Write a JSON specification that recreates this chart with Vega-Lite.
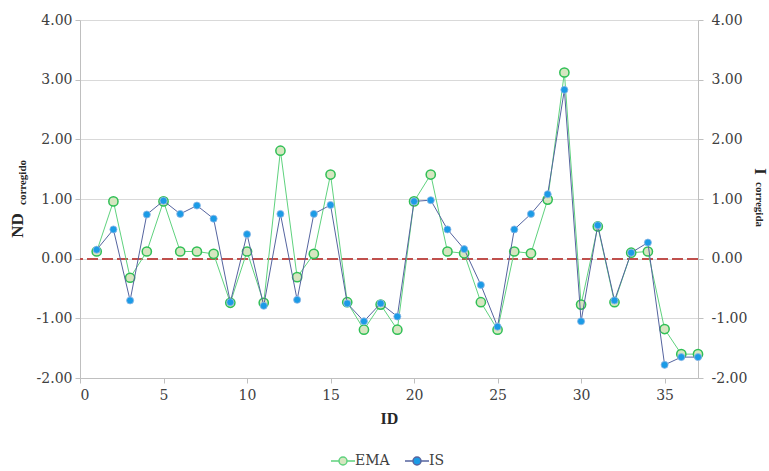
{
  "$schema": "https://vega.github.io/schema/vega-lite/v6.json",
  "width": 618,
  "height": 358,
  "autosize": {"type": "none"},
  "padding": {"left": 80, "top": 20, "right": 71, "bottom": 93},
  "background": "white",
  "config": {
    "font": "Liberation Serif",
    "locale": {"number": {"decimal": ".", "thousands": ",", "grouping": [3], "currency": ["$", ""], "minus": "-"}},
    "view": {"stroke": null},
    "axis": {
      "labelFont": "DejaVu Serif",
      "titleFont": "Liberation Serif",
      "labelFontSize": 14,
      "labelColor": "#404040",
      "titleColor": "#262626",
      "domainColor": "#bfbfbf",
      "tickColor": "#bfbfbf",
      "tickSize": 5,
      "gridColor": "#d9d9d9"
    },
    "legend": {"labelFont": "DejaVu Serif", "labelFontSize": 14, "labelColor": "#404040",
      "layout": {"bottom": {"anchor": "middle"}}}
  },
  "data": {
    "values": [
      {"ID": 1, "EMA": 0.12, "IS": 0.15},
      {"ID": 2, "EMA": 0.96, "IS": 0.49},
      {"ID": 3, "EMA": -0.32, "IS": -0.70},
      {"ID": 4, "EMA": 0.12, "IS": 0.74},
      {"ID": 5, "EMA": 0.96, "IS": 0.97},
      {"ID": 6, "EMA": 0.12, "IS": 0.75},
      {"ID": 7, "EMA": 0.12, "IS": 0.89},
      {"ID": 8, "EMA": 0.08, "IS": 0.67},
      {"ID": 9, "EMA": -0.74, "IS": -0.73},
      {"ID": 10, "EMA": 0.12, "IS": 0.41},
      {"ID": 11, "EMA": -0.74, "IS": -0.79},
      {"ID": 12, "EMA": 1.81, "IS": 0.75},
      {"ID": 13, "EMA": -0.31, "IS": -0.69},
      {"ID": 14, "EMA": 0.08, "IS": 0.75},
      {"ID": 15, "EMA": 1.41, "IS": 0.90},
      {"ID": 16, "EMA": -0.73, "IS": -0.75},
      {"ID": 17, "EMA": -1.19, "IS": -1.05},
      {"ID": 18, "EMA": -0.77, "IS": -0.75},
      {"ID": 19, "EMA": -1.19, "IS": -0.97},
      {"ID": 20, "EMA": 0.96, "IS": 0.96},
      {"ID": 21, "EMA": 1.41, "IS": 0.98},
      {"ID": 22, "EMA": 0.12, "IS": 0.49},
      {"ID": 23, "EMA": 0.09, "IS": 0.16},
      {"ID": 24, "EMA": -0.73, "IS": -0.44},
      {"ID": 25, "EMA": -1.19, "IS": -1.14},
      {"ID": 26, "EMA": 0.12, "IS": 0.49},
      {"ID": 27, "EMA": 0.09, "IS": 0.75},
      {"ID": 28, "EMA": 0.99, "IS": 1.08},
      {"ID": 29, "EMA": 3.12, "IS": 2.83},
      {"ID": 30, "EMA": -0.77, "IS": -1.05},
      {"ID": 31, "EMA": 0.54, "IS": 0.56},
      {"ID": 32, "EMA": -0.73, "IS": -0.70},
      {"ID": 33, "EMA": 0.10, "IS": 0.10},
      {"ID": 34, "EMA": 0.12, "IS": 0.27},
      {"ID": 35, "EMA": -1.18, "IS": -1.78},
      {"ID": 36, "EMA": -1.60, "IS": -1.65},
      {"ID": 37, "EMA": -1.60, "IS": -1.65}
    ]
  },
  "layer": [
    {
      "layer": [
        {
          "mark": {"type": "rule", "color": "#c0504d", "strokeWidth": 1.5, "strokeDash": [11, 4]},
          "encoding": {
            "y": {"datum": 0, "type": "quantitative", "scale": {"domain": [-2, 4], "nice": false},
              "axis": {"orient": "left", "title": "corregido", "titleFontSize": 11, "titleFontWeight": "bold",
                "titleAngle": 270, "titleAlign": "center", "titleBaseline": "middle", "titleX": -58, "titleY": 162,
                "domain": false, "ticks": false, "labels": false, "grid": false, "offset": 0}}
          }
        },
        {
          "mark": {"type": "rule", "color": "#c0504d", "strokeOpacity": 0},
          "encoding": {
            "y": {"datum": 0, "type": "quantitative", "scale": {"domain": [-2, 4], "nice": false},
              "axis": {"orient": "right", "title": "corregida", "titleFontSize": 11, "titleFontWeight": "bold",
                "titleAngle": 90, "titleAlign": "center", "titleBaseline": "middle", "titleX": 60, "titleY": 184,
                "domain": false, "ticks": false, "labels": false, "grid": false, "offset": 0}}
          }
        }
      ],
      "resolve": {"scale": {"y": "independent"}}
    },
    {
      "transform": [{"fold": ["EMA"], "as": ["series", "value"]}],
      "encoding": {
        "x": {"field": "ID", "type": "quantitative", "scale": {"domain": [0, 37], "nice": false},
          "axis": {"values": [0, 5, 10, 15, 20, 25, 30, 35], "grid": false, "title": "ID", "titleFontSize": 16,
            "titleFontWeight": "bold", "titlePadding": 8, "labelPadding": 5}},
        "y": {"field": "value", "type": "quantitative", "scale": {"domain": [-2, 4], "nice": false},
          "axis": {"orient": "left", "values": [-2, -1, 0, 1, 2, 3, 4], "format": ".2f", "grid": true, "labelPadding": 3,
            "title": "ND", "titleFontSize": 17, "titleFontWeight": "bold", "titleAngle": 270, "titleAlign": "center",
            "titleBaseline": "middle", "titleX": -63, "titleY": 205, "offset": 0}}
      },
      "layer": [
        {
          "mark": {"type": "line", "strokeWidth": 1},
          "encoding": {
            "stroke": {"field": "series", "type": "nominal", "title": null,
              "scale": {"domain": ["EMA", "IS"], "range": ["#5fd27e", "#55649f"]},
              "legend": {"orient": "bottom", "direction": "horizontal", "offset": 26,
                "symbolType": "M-1.5,0L-0.5,0M0.5,0L1.5,0M-0.5,0A0.5,0.5,0,1,1,0.5,0A0.5,0.5,0,1,1,-0.5,0",
                "symbolSize": 256, "symbolStrokeWidth": 1.5, "labelOffset": 3, "columnPadding": 12}}
          }
        },
        {
          "mark": {"type": "point", "filled": true, "size": 85, "stroke": "#2fbf55", "strokeWidth": 1.5, "opacity": 1},
          "encoding": {
            "fill": {"field": "series", "type": "nominal", "title": null,
              "scale": {"domain": ["EMA", "IS"], "range": ["#d6e6c0", "#1b9be6"]}}
          }
        }
      ]
    },
    {
      "transform": [{"fold": ["IS"], "as": ["series", "value"]}],
      "encoding": {
        "x": {"field": "ID", "type": "quantitative", "scale": {"domain": [0, 37], "nice": false}},
        "y": {"field": "value", "type": "quantitative", "scale": {"domain": [-2, 4], "nice": false},
          "axis": {"orient": "right", "values": [-2, -1, 0, 1, 2, 3, 4], "format": ".2f", "grid": false, "labelPadding": 8,
            "title": "I", "titleFontSize": 17, "titleFontWeight": "bold", "titleAngle": 90, "titleAlign": "center",
            "titleBaseline": "middle", "titleX": 61, "titleY": 151, "offset": 0}}
      },
      "layer": [
        {
          "mark": {"type": "line", "strokeWidth": 1},
          "encoding": {
            "stroke": {"field": "series", "type": "nominal", "title": null,
              "scale": {"domain": ["EMA", "IS"], "range": ["#5fd27e", "#55649f"]}}
          }
        },
        {
          "mark": {"type": "point", "filled": true, "size": 50, "stroke": "#8fb8e6", "strokeWidth": 0.8, "opacity": 1},
          "encoding": {
            "fill": {"field": "series", "type": "nominal", "title": null,
              "scale": {"domain": ["EMA", "IS"], "range": ["#d6e6c0", "#1b9be6"]}}
          }
        }
      ]
    }
  ],
  "resolve": {"scale": {"y": "independent"}}
}
